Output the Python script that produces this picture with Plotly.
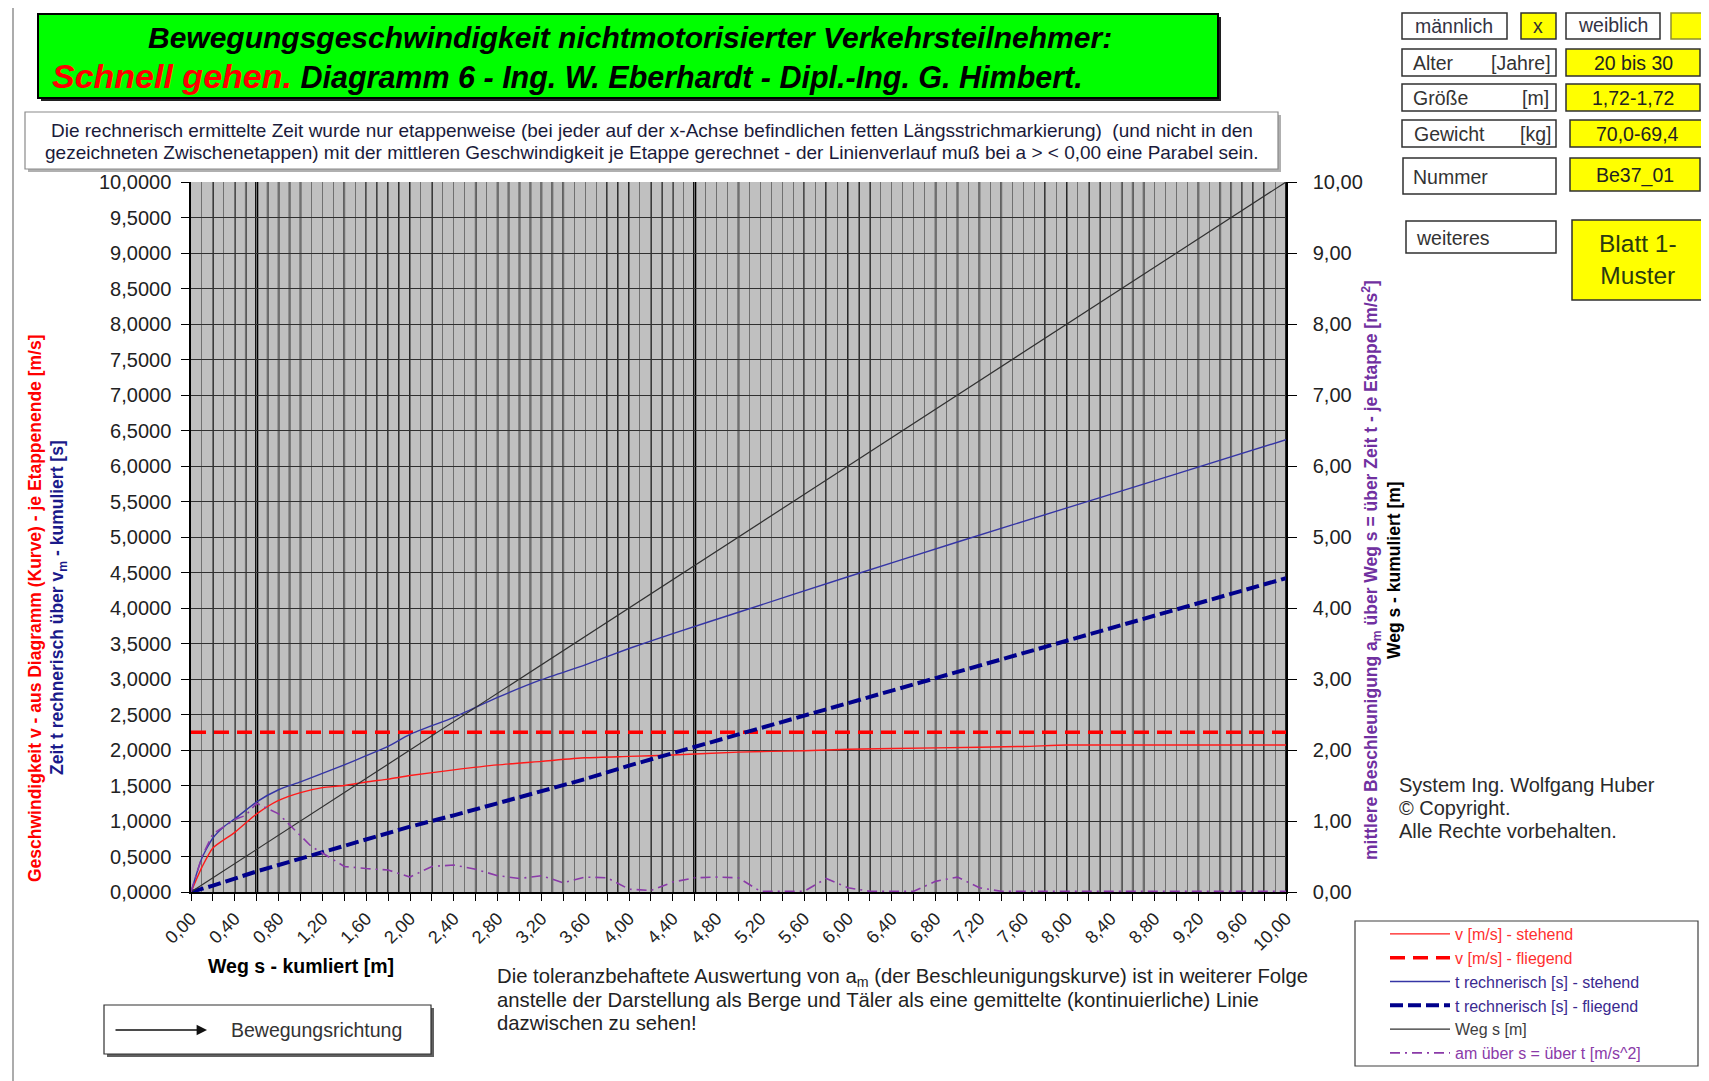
import plotly.graph_objects as go

# ---------------- data ----------------
s_v = [0, 0.1, 0.2, 0.4, 0.6, 0.8, 1.0, 1.2, 1.4, 1.6, 1.8, 2.0, 2.4, 2.8, 3.2, 3.6, 4.0, 4.4, 5.0, 5.6, 6.0, 6.8, 7.6, 8.0, 9.0, 10.0]
v_stehend = [0, 0.35, 0.62, 0.84, 1.10, 1.29, 1.40, 1.47, 1.50, 1.55, 1.59, 1.64, 1.72, 1.79, 1.84, 1.89, 1.91, 1.93, 1.97, 1.99, 2.01, 2.03, 2.05, 2.07, 2.07, 2.07]

s_vf = [0, 10]
v_fliegend = [2.25, 2.25]

s_t = [0, 0.1, 0.2, 0.3, 0.4, 0.6, 0.8, 1.0, 1.2, 1.4, 1.6, 1.8, 2.0, 2.4, 2.8, 3.2, 3.6, 4.0, 4.4, 5.0, 6.0, 7.0, 8.0, 9.0, 10.0]
t_stehend = [0, 0.48, 0.76, 0.92, 1.03, 1.27, 1.44, 1.55, 1.67, 1.79, 1.92, 2.05, 2.22, 2.46, 2.74, 2.99, 3.20, 3.43, 3.64, 3.94, 4.44, 4.93, 5.41, 5.89, 6.37]

s_tf = [0, 0.2, 0.6, 1.0, 1.4, 2.0, 2.4, 2.8, 3.2, 3.6, 4.0, 4.4, 5.0, 6.0, 7.0, 8.0, 9.0, 10.0]
t_fliegend = [0, 0.09, 0.29, 0.47, 0.64, 0.92, 1.08, 1.25, 1.42, 1.59, 1.78, 1.96, 2.22, 2.66, 3.10, 3.54, 3.98, 4.42]

s_weg = [0, 10]
weg = [0, 10]

s_a = [0, 0.1, 0.2, 0.4, 0.5, 0.6, 0.8, 1.0, 1.1, 1.2, 1.4, 1.6, 1.8, 2.0, 2.1, 2.2, 2.4, 2.6, 2.8, 3.0, 3.2, 3.4,
       3.6, 3.8, 3.9, 4.0, 4.2, 4.3, 4.4, 4.6, 4.8, 5.0, 5.1, 5.2, 5.6, 5.8, 6.0, 6.2, 6.6, 6.8, 7.0, 7.2, 7.4, 8.0, 9.0, 10.0]
a_m = [0, 0.50, 0.82, 1.02, 1.08, 1.25, 1.10, 0.80, 0.64, 0.55, 0.36, 0.33, 0.31, 0.21, 0.28, 0.36, 0.38, 0.32, 0.23, 0.19, 0.23, 0.13,
       0.21, 0.20, 0.12, 0.04, 0.02, 0.08, 0.14, 0.20, 0.21, 0.20, 0.10, 0.01, 0.01, 0.19, 0.06, 0.01, 0.01, 0.15, 0.21, 0.06, 0.01, 0.01, 0.01, 0.01]

# x ticks / grid
x_tick_vals = [0.0, 0.2, 0.4, 0.6, 0.8, 1.0, 1.2, 1.4, 1.6, 1.8, 2.0, 2.2, 2.4, 2.6, 2.8, 3.0, 3.2, 3.4, 3.6, 3.8, 4.0, 4.2, 4.4, 4.6, 4.8,
               5.0, 5.2, 5.4, 5.6, 5.8, 6.0, 6.2, 6.4, 6.6, 6.8, 7.0, 7.2, 7.4, 7.6, 7.8, 8.0, 8.2, 8.4, 8.6, 8.8, 9.0, 9.2, 9.4, 9.6, 9.8, 10.0]
x_label_vals = [0.0, 0.4, 0.8, 1.2, 1.6, 2.0, 2.4, 2.8, 3.2, 3.6, 4.0, 4.4, 4.8, 5.2, 5.6, 6.0, 6.4, 6.8, 7.2, 7.6, 8.0, 8.4, 8.8, 9.2, 9.6, 10.0]
stage_marks = [0.2, 0.4, 0.5, 0.6, 0.7, 0.8, 0.9, 1.0, 1.4, 1.6, 1.7, 1.8, 1.9, 2.0, 2.2, 2.6, 2.8, 2.9, 3.0, 3.1, 3.2, 3.3, 3.4,
               3.8, 3.9, 4.0, 4.2, 4.3, 4.4, 4.6, 5.0, 5.6, 5.8, 6.0, 6.1, 6.2, 6.8, 7.0, 7.2, 7.4, 7.8, 8.0, 8.2, 8.3, 8.5, 8.6, 8.7,
               9.2, 9.4, 9.5, 9.6, 9.7, 9.8, 10.0]
heavy_marks = [0.6, 4.6]
yl_tick_vals = [0.0, 0.5, 1.0, 1.5, 2.0, 2.5, 3.0, 3.5, 4.0, 4.5, 5.0, 5.5, 6.0, 6.5, 7.0, 7.5, 8.0, 8.5, 9.0, 9.5, 10.0]
yr_tick_vals = [0, 1, 2, 3, 4, 5, 6, 7, 8, 9, 10]


def de(v, n):
    return f"{v:.{n}f}".replace(".", ",")


# ---------------- layout geometry (page pixels of the reference) ----------------
OFF = 8                      # browser body margin
W, H = 1709 - OFF, 1081 - OFF
PL, PR, PT, PB = 191, 1286, 182, 892


def fx(px):
    return (px - PL) / (PR - PL)


def fy(py):
    return (PB - py) / (PB - PT)


def cx(px):
    return (px - OFF) / W


def cy(py):
    return 1 - (py - OFF) / H


FONT = "Liberation Sans, Arial, sans-serif"

fig = go.Figure()

fig.add_trace(go.Scatter(x=s_v, y=v_stehend, mode="lines", name="<span style='color:#ff3030'>v [m/s] - stehend</span>",
                         line=dict(color="#ff1a1a", width=1.4, shape="spline", smoothing=0.6)))
fig.add_trace(go.Scatter(x=s_vf, y=v_fliegend, mode="lines", name="<span style='color:#ff3030'>v [m/s] - fliegend</span>",
                         line=dict(color="#ff0000", width=3.5, dash="15px,8px")))
fig.add_trace(go.Scatter(x=s_t, y=t_stehend, mode="lines", name="<span style='color:#3a2a90'>t rechnerisch [s] - stehend</span>",
                         line=dict(color="#3535a5", width=1.4, shape="spline", smoothing=0.6)))
fig.add_trace(go.Scatter(x=s_tf, y=t_fliegend, mode="lines", name="<span style='color:#3a2a90'>t rechnerisch [s] - fliegend</span>",
                         line=dict(color="#00008b", width=4, dash="13px,5px")))
fig.add_trace(go.Scatter(x=s_weg, y=weg, mode="lines", name="<span style='color:#404040'>Weg s [m]</span>",
                         line=dict(color="#303030", width=1.2), yaxis="y2"))
fig.add_trace(go.Scatter(x=s_a, y=a_m, mode="lines", name="<span style='color:#8a3aa8'>am über s = über t [m/s^2]</span>",
                         line=dict(color="#8a3aa8", width=1.6, dash="10px,5px,2px,5px"), yaxis="y2"))

shapes = []
for xv in stage_marks:
    shapes.append(dict(type="line", xref="x", yref="paper", x0=xv, x1=xv, y0=0, y1=1, layer="between",
                       line=dict(color="#000000", width=3.2 if xv in heavy_marks else 1.6)))

# page frame
shapes.append(dict(type="line", xref="paper", yref="paper", x0=fx(12), x1=fx(1709), y0=fy(5), y1=fy(5),
                   line=dict(color="#202020", width=2)))
shapes.append(dict(type="line", xref="paper", yref="paper", x0=fx(13), x1=fx(13), y0=fy(5), y1=fy(1081),
                   line=dict(color="#909090", width=1.5)))


def box(x0, x1, y0, y1, fill, border="#303030", bw=1.5, shadow=None):
    if shadow:
        shapes.append(dict(type="rect", xref="paper", yref="paper", x0=fx(x0 + 3), x1=fx(x1 + 3), y0=fy(y0 + 3), y1=fy(y1 + 3),
                           fillcolor=shadow, line=dict(width=0)))
    shapes.append(dict(type="rect", xref="paper", yref="paper", x0=fx(x0), x1=fx(x1), y0=fy(y0), y1=fy(y1),
                       fillcolor=fill, line=dict(color=border, width=bw)))


box(38, 1218, 14, 98, "#00ff00", border="#000000", bw=2, shadow="#202020")
box(25, 1278, 112, 169, "#ffffff", border="#8a8a8a", bw=1.2, shadow="#b0b0b0")
box(1402, 1507, 13, 39, "#ffffff")
box(1521, 1556, 13, 39, "#ffff00")
box(1566, 1660, 13, 39, "#ffffff")
box(1671, 1704, 13, 39, "#ffff00", border="#909030")
box(1402, 1556, 49, 76, "#ffffff")
box(1566, 1700, 49, 76, "#ffff00")
box(1402, 1556, 84, 111, "#ffffff")
box(1566, 1700, 84, 111, "#ffff00")
box(1402, 1556, 120, 147, "#ffffff")
box(1570, 1704, 120, 147, "#ffff00")
box(1403, 1556, 158, 194, "#ffffff")
box(1570, 1700, 158, 191, "#ffff00")
box(1406, 1556, 221, 253, "#ffffff")
box(1572, 1704, 220, 300, "#ffff00")
box(1355, 1698, 921, 1066, "#ffffff", border="#404040", bw=1.2)
box(104, 431, 1005, 1054, "#ffffff", border="#303030", bw=1.2, shadow="#606060")

ann = []


def txt(x, y, text, size=17, color="#222222", xanchor="left", yanchor="middle", bold=False, italic=False, angle=0, align="left",
        font=FONT):
    t = text
    if bold:
        t = f"<b>{t}</b>"
    if italic:
        t = f"<i>{t}</i>"
    ann.append(dict(x=fx(x), y=fy(y), xref="paper", yref="paper", text=t, showarrow=False, xanchor=xanchor, yanchor=yanchor,
                    textangle=angle, align=align, font=dict(size=size, color=color, family=font)))


# title
txt(630, 37, "Bewegungsgeschwindigkeit nichtmotorisierter Verkehrsteilnehmer:", size=30, color="#000000", xanchor="center",
    bold=True, italic=True)
txt(50, 76, "<span style='color:#ff0000;font-size:34px'>Schnell gehen.</span> Diagramm 6 - Ing. W. Eberhardt - Dipl.-Ing. G. Himbert.",
    size=30.5, color="#000000", bold=True, italic=True)

# note
txt(652, 130, "Die rechnerisch ermittelte Zeit wurde nur etappenweise (bei jeder auf der x-Achse befindlichen fetten Längsstrichmarkierung)  (und nicht in den",
    size=19, color="#1a1a3a", xanchor="center")
txt(652, 152, "gezeichneten Zwischenetappen) mit der mittleren Geschwindigkeit je Etappe gerechnet - der Linienverlauf muß bei a > < 0,00 eine Parabel sein.",
    size=19, color="#1a1a3a", xanchor="center")

# info box texts
IS = 19.5
txt(1454, 26, "männlich", size=IS, color="#333344", xanchor="center")
txt(1538, 26, "x", size=IS, color="#333333", xanchor="center")
txt(1613, 25, "weiblich", size=IS, color="#333344", xanchor="center")
txt(1411, 63, "Alter", size=IS, color="#333333")
txt(1553, 63, "[Jahre]", size=IS, color="#333333", xanchor="right")
txt(1633, 63, "20 bis 30", size=IS, color="#222222", xanchor="center")
txt(1411, 98, "Größe", size=IS, color="#333333")
txt(1551, 98, "[m]", size=IS, color="#333333", xanchor="right")
txt(1633, 98, "1,72-1,72", size=IS, color="#222222", xanchor="center")
txt(1412, 134, "Gewicht", size=IS, color="#333333")
txt(1553, 134, "[kg]", size=IS, color="#333333", xanchor="right")
txt(1637, 134, "70,0-69,4", size=IS, color="#222222", xanchor="center")
txt(1411, 177, "Nummer", size=IS, color="#333333")
txt(1635, 175, "Be37_01", size=IS, color="#222222", xanchor="center")
txt(1414, 238, "weiteres", size=IS, color="#333333")
txt(1638, 260, "Blatt 1-<br>Muster", size=24.5, color="#2a3a10", xanchor="center", align="center")

# axis titles
txt(35, 608, "Geschwindigkeit v - aus Diagramm (Kurve) - je Etappenende [m/s]", size=17.5, color="#ff0000", xanchor="center",
    bold=True, angle=-90)
txt(58, 608, "Zeit t rechnerisch über v<sub>m</sub> - kumuliert [s]", size=17.5, color="#1a1a8a", xanchor="center", bold=True, angle=-90)
txt(1371, 570, "mittlere Beschleunigung a<sub>m</sub> über Weg s = über Zeit t - je Etappe [m/s<sup>2</sup>]", size=17.5,
    color="#7030a0", xanchor="center", bold=True, angle=-90)
txt(1394, 570, "Weg s - kumuliert [m]", size=17.5, color="#000000", xanchor="center", bold=True, angle=-90)
txt(206, 966, "Weg s - kumliert [m]", size=19.5, color="#000000", bold=True)

# copyright
txt(1397, 785, "System Ing. Wolfgang Huber", size=20, color="#2a2a2a")
txt(1397, 808, "© Copyright.", size=20, color="#2a2a2a")
txt(1397, 831, "Alle Rechte vorbehalten.", size=20, color="#2a2a2a")

# bottom note
txt(495, 977, "Die toleranzbehaftete Auswertung von a<sub>m</sub> (der Beschleunigungskurve) ist in weiterer Folge", size=20.3, color="#222222")
txt(495, 1000, "anstelle der Darstellung als Berge und Täler als eine gemittelte (kontinuierliche) Linie", size=20.3, color="#222222")
txt(495, 1023, "dazwischen zu sehen!", size=20.3, color="#222222")

# Bewegungsrichtung
txt(229, 1030, "Bewegungsrichtung", size=19.5, color="#333333")
ann.append(dict(x=fx(207), y=fy(1030), xref="paper", yref="paper", ax=-93, ay=0, axref="pixel", ayref="pixel", text="",
                showarrow=True, arrowhead=2, arrowsize=1.6, arrowwidth=1.3, arrowcolor="#111111"))

fig.update_layout(
    width=W, height=H,
    margin=dict(l=PL - OFF, r=W - (PR - OFF), t=PT - OFF, b=H - (PB - OFF), autoexpand=False),
    paper_bgcolor="#ffffff",
    plot_bgcolor="#c0c0c0",
    font=dict(family=FONT, color="#222222"),
    shapes=shapes,
    annotations=ann,
    showlegend=True,
    legend=dict(xref="container", yref="container", x=cx(1385), y=cy(917), xanchor="left", yanchor="top",
                bgcolor="rgba(0,0,0,0)", borderwidth=0,
                font=dict(size=16, family=FONT), tracegroupgap=0, itemwidth=60),
    xaxis=dict(range=[0, 10], tickvals=x_tick_vals,
               ticktext=[de(v, 2) if v in x_label_vals else "" for v in x_tick_vals],
               tickangle=-45, ticks="outside", ticklen=7, tickcolor="#000", tickfont=dict(size=18, color="#222"),
               showgrid=False, showline=True, linecolor="#000", linewidth=2, zeroline=False, automargin=False,
               minor=dict(dtick=0.1, tick0=0, showgrid=True, gridcolor="#707070", gridwidth=1.2, ticks="")),
    yaxis=dict(range=[0, 10], tickvals=yl_tick_vals, ticktext=[de(v, 4) for v in yl_tick_vals],
               ticks="outside", ticklen=8, tickcolor="#000", tickfont=dict(size=20, color="#222"),
               showgrid=True, gridcolor="#303030", gridwidth=1.2, showline=True, linecolor="#000", linewidth=1.5,
               zeroline=False, ticklabelstandoff=6, automargin=False),
    yaxis2=dict(range=[0, 10], overlaying="y", side="right", tickvals=yr_tick_vals, ticktext=[de(v, 2) for v in yr_tick_vals],
                ticks="outside", ticklen=9, tickcolor="#000", tickfont=dict(size=20, color="#222"),
                showgrid=False, showline=True, linecolor="#000", linewidth=1.5, zeroline=False, ticklabelstandoff=12,
                automargin=False),
)

fig.write_html("out.html")
